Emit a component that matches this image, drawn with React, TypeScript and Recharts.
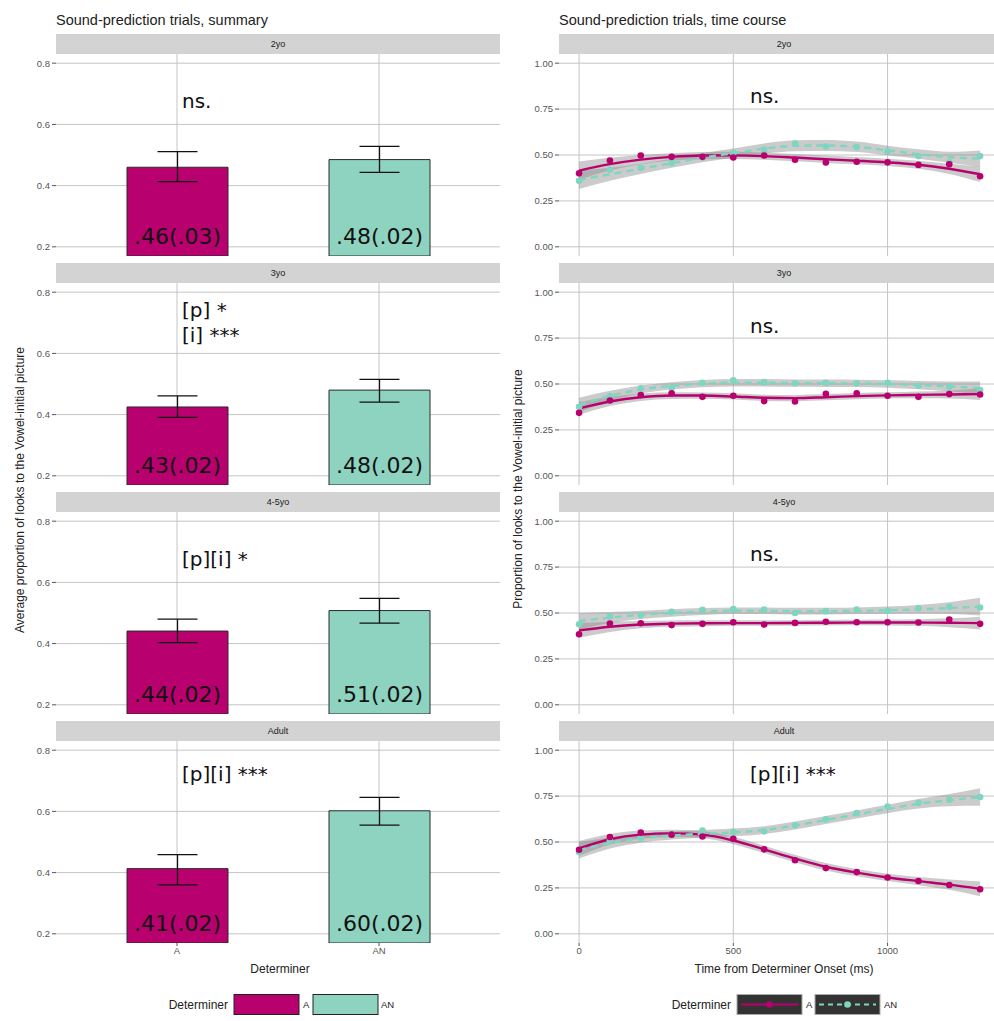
import React from "react";
import {
  BarChart,
  Bar,
  Cell,
  ErrorBar,
  LabelList,
  ComposedChart,
  Line,
  Area,
  XAxis,
  YAxis,
  CartesianGrid,
} from "recharts";

// ---- data ----
const ageGroups = ["2yo", "3yo", "4-5yo", "Adult"];
const determiners = ["A", "AN"];

// summary: mean and error-bar ends per age group
const meanA = [0.46, 0.425, 0.441, 0.413];
const meanAN = [0.485, 0.48, 0.508, 0.602];
const lowA = [0.413, 0.391, 0.403, 0.36];
const highA = [0.511, 0.461, 0.48, 0.459];
const lowAN = [0.443, 0.441, 0.467, 0.555];
const highAN = [0.528, 0.515, 0.548, 0.646];
const labelA = [".46(.03)", ".43(.02)", ".44(.02)", ".41(.02)"];
const labelAN = [".48(.02)", ".48(.02)", ".51(.02)", ".60(.02)"];
const summaryNotes = [["ns."], ["[p] *", "[i] ***"], ["[p][i] *"], ["[p][i] ***"]];

// time course
const timeMs = [0, 100, 200, 300, 400, 500, 600, 700, 800, 900, 1000, 1100, 1200, 1300];
const timeNotes = ["ns.", "ns.", "ns.", "[p][i] ***"];

const pointsA = [
  [0.4, 0.47, 0.497, 0.49, 0.49, 0.486, 0.497, 0.474, 0.459, 0.463, 0.46, 0.446, 0.45, 0.384],
  [0.343, 0.41, 0.44, 0.449, 0.43, 0.436, 0.407, 0.405, 0.447, 0.449, 0.436, 0.43, 0.445, 0.443],
  [0.384, 0.443, 0.444, 0.434, 0.441, 0.45, 0.437, 0.446, 0.452, 0.45, 0.45, 0.448, 0.464, 0.441],
  [0.458, 0.527, 0.551, 0.54, 0.53, 0.518, 0.46, 0.401, 0.358, 0.336, 0.307, 0.288, 0.266, 0.243],
];
const pointsAN = [
  [0.36, 0.42, 0.43, 0.457, 0.486, 0.51, 0.53, 0.563, 0.546, 0.543, 0.52, 0.494, 0.46, 0.494],
  [0.376, 0.434, 0.476, 0.48, 0.507, 0.52, 0.51, 0.504, 0.507, 0.504, 0.507, 0.49, 0.485, 0.467],
  [0.439, 0.481, 0.488, 0.506, 0.517, 0.521, 0.519, 0.5, 0.51, 0.519, 0.512, 0.526, 0.534, 0.53],
  [0.445, 0.507, 0.52, 0.54, 0.562, 0.555, 0.558, 0.591, 0.624, 0.657, 0.693, 0.713, 0.73, 0.745],
];
const fitA = [
  [0.415, 0.45, 0.475, 0.49, 0.497, 0.498, 0.494, 0.486, 0.477, 0.469, 0.46, 0.447, 0.425, 0.395],
  [0.367, 0.405, 0.428, 0.437, 0.437, 0.432, 0.425, 0.423, 0.428, 0.434, 0.438, 0.441, 0.443, 0.445],
  [0.405, 0.425, 0.437, 0.442, 0.444, 0.445, 0.445, 0.446, 0.447, 0.448, 0.448, 0.448, 0.447, 0.445],
  [0.465, 0.515, 0.54, 0.547, 0.54, 0.508, 0.46, 0.41, 0.365, 0.333, 0.307, 0.287, 0.268, 0.245],
];
const fitAN = [
  [0.365, 0.395, 0.425, 0.455, 0.485, 0.51, 0.535, 0.55, 0.552, 0.545, 0.525, 0.505, 0.488, 0.48],
  [0.385, 0.435, 0.47, 0.49, 0.502, 0.507, 0.507, 0.505, 0.504, 0.503, 0.5, 0.494, 0.487, 0.478],
  [0.455, 0.475, 0.49, 0.5, 0.508, 0.512, 0.512, 0.51, 0.51, 0.512, 0.515, 0.52, 0.527, 0.535],
  [0.455, 0.495, 0.52, 0.535, 0.545, 0.552, 0.565, 0.59, 0.62, 0.65, 0.68, 0.708, 0.728, 0.745],
];
// half-width of the grey confidence ribbons
const bandA = [
  [0.05, 0.035, 0.025, 0.02, 0.02, 0.02, 0.02, 0.02, 0.02, 0.02, 0.02, 0.022, 0.028, 0.042],
  [0.035, 0.025, 0.02, 0.018, 0.017, 0.017, 0.017, 0.017, 0.017, 0.017, 0.017, 0.018, 0.022, 0.032],
  [0.04, 0.028, 0.02, 0.017, 0.016, 0.015, 0.015, 0.015, 0.015, 0.015, 0.016, 0.018, 0.024, 0.035],
  [0.04, 0.028, 0.022, 0.02, 0.02, 0.02, 0.02, 0.02, 0.02, 0.02, 0.02, 0.022, 0.028, 0.04],
];
const bandAN = [
  [0.05, 0.035, 0.028, 0.025, 0.025, 0.025, 0.028, 0.03, 0.03, 0.028, 0.026, 0.026, 0.03, 0.045],
  [0.04, 0.028, 0.022, 0.02, 0.02, 0.02, 0.02, 0.02, 0.02, 0.02, 0.02, 0.022, 0.026, 0.036],
  [0.045, 0.03, 0.022, 0.02, 0.019, 0.018, 0.018, 0.018, 0.018, 0.018, 0.02, 0.024, 0.032, 0.048],
  [0.045, 0.03, 0.024, 0.022, 0.021, 0.021, 0.021, 0.022, 0.022, 0.022, 0.023, 0.026, 0.033, 0.048],
];

// ---- styling ----
const MAG = "#b8006e";
const TEAL_BAR = "#8dd3bf";
const TEAL = "#7fd6c0";
const GRID = "#c4c4c4";
const AXIS_TEXT = "#555";
const SANS = "'Liberation Sans', Arial, sans-serif";
const NOTE_FONT = "'DejaVu Sans', Verdana, sans-serif";

const STEP = 229;
const PLOT_TOP = 54;
const PLOT_H = 202;
const AXIS_H = 20;

function BarLabel(props: any) {
  const { x, y, width, height, value } = props;
  return (
    <text
      x={x + width / 2}
      y={y + height - 12}
      textAnchor="middle"
      fontFamily={NOTE_FONT}
      fontSize={22}
      fill="#111"
    >
      {value}
    </text>
  );
}

function SummaryPanel({ k }: { k: number }) {
  const last = k === ageGroups.length - 1;
  const rows = determiners.map((d, i) => {
    const mean = i === 0 ? meanA[k] : meanAN[k];
    const lo = i === 0 ? lowA[k] : lowAN[k];
    const hi = i === 0 ? highA[k] : highAN[k];
    return { det: d, mean, err: [mean - lo, hi - mean], label: i === 0 ? labelA[k] : labelAN[k] };
  });
  return (
    <div style={{ position: "absolute", left: 0, top: PLOT_TOP + STEP * k }}>
      <BarChart
        width={500}
        height={last ? PLOT_H + AXIS_H : PLOT_H}
        data={rows}
        margin={{ top: 0, right: 0, bottom: 0, left: 0 }}
      >
        <CartesianGrid stroke={GRID} strokeWidth={1} syncWithTicks />
        <XAxis
          dataKey="det"
          padding={{ left: 20, right: 20 }}
          hide={!last}
          height={AXIS_H}
          tickSize={3}
          tickMargin={1}
          axisLine={false}
          tickLine={{ stroke: AXIS_TEXT }}
          tick={{ fontSize: 9.5, fill: AXIS_TEXT, fontFamily: SANS }}
        />
        <YAxis
          width={56}
          domain={[0.17, 0.83]}
          allowDataOverflow
          ticks={[0.2, 0.4, 0.6, 0.8]}
          tickFormatter={(v: number) => v.toFixed(1)}
          tickSize={4}
          tickMargin={2}
          axisLine={false}
          tickLine={{ stroke: AXIS_TEXT }}
          tick={{ fontSize: 9.5, fill: AXIS_TEXT, fontFamily: SANS }}
        />
        <Bar dataKey="mean" barSize={101} stroke="#2b2b2b" strokeWidth={1} isAnimationActive={false}>
          {rows.map((r, i) => (
            <Cell key={r.det} fill={i === 0 ? MAG : TEAL_BAR} />
          ))}
          <ErrorBar dataKey="err" width={20} stroke="#111" strokeWidth={1.3} direction="y" />
          <LabelList dataKey="label" content={BarLabel} />
        </Bar>
      </BarChart>
    </div>
  );
}

function TimePanel({ k }: { k: number }) {
  const last = k === ageGroups.length - 1;
  const rows = timeMs.map((t, i) => ({
    t,
    a: pointsA[k][i],
    an: pointsAN[k][i],
    aFit: fitA[k][i],
    anFit: fitAN[k][i],
    aBand: [fitA[k][i] - bandA[k][i], fitA[k][i] + bandA[k][i]],
    anBand: [fitAN[k][i] - bandAN[k][i], fitAN[k][i] + bandAN[k][i]],
  }));
  return (
    <div style={{ position: "absolute", left: 500, top: PLOT_TOP + STEP * k }}>
      <ComposedChart
        width={494}
        height={last ? PLOT_H + AXIS_H : PLOT_H}
        data={rows}
        margin={{ top: 0, right: 0, bottom: 0, left: 0 }}
      >
        <CartesianGrid stroke={GRID} strokeWidth={1} syncWithTicks />
        <XAxis
          dataKey="t"
          type="number"
          domain={[-65, 1345]}
          allowDataOverflow
          ticks={[0, 500, 1000]}
          hide={!last}
          height={AXIS_H}
          tickSize={3}
          tickMargin={1}
          axisLine={false}
          tickLine={{ stroke: AXIS_TEXT }}
          tick={{ fontSize: 9.5, fill: AXIS_TEXT, fontFamily: SANS }}
        />
        <YAxis
          width={59}
          domain={[-0.05, 1.05]}
          allowDataOverflow
          ticks={[0, 0.25, 0.5, 0.75, 1]}
          tickFormatter={(v: number) => v.toFixed(2)}
          tickSize={4}
          tickMargin={2}
          axisLine={false}
          tickLine={{ stroke: AXIS_TEXT }}
          tick={{ fontSize: 9.5, fill: AXIS_TEXT, fontFamily: SANS }}
        />
        <Line dataKey="an" stroke="none" strokeWidth={0} dot={{ r: 3.3, fill: TEAL, stroke: TEAL }} activeDot={false} isAnimationActive={false} />
        <Line dataKey="a" stroke="none" strokeWidth={0} dot={{ r: 3.3, fill: MAG, stroke: MAG }} activeDot={false} isAnimationActive={false} />
        <Area dataKey="aBand" type="monotone" fill="#8c8c8c" fillOpacity={0.45} stroke="none" isAnimationActive={false} />
        <Area dataKey="anBand" type="monotone" fill="#8c8c8c" fillOpacity={0.45} stroke="none" isAnimationActive={false} />
        <Line dataKey="aFit" type="monotone" stroke={MAG} strokeWidth={2.4} dot={false} activeDot={false} isAnimationActive={false} />
        <Line dataKey="anFit" type="monotone" stroke={TEAL} strokeWidth={2.4} strokeDasharray="7 5" dot={false} activeDot={false} isAnimationActive={false} />
      </ComposedChart>
    </div>
  );
}

export default function App() {
  const summaryNoteBase = [108, 317, 566, 781];
  const timeNoteBase = [103, 333, 561, 781];
  return (
    <div style={{ position: "absolute", left: 0, top: 0, width: 994, height: 1021, background: "#fff", overflow: "hidden" }}>
      {ageGroups.map((g, k) => (
        <SummaryPanel key={"s" + g} k={k} />
      ))}
      {ageGroups.map((g, k) => (
        <TimePanel key={"t" + g} k={k} />
      ))}
      <svg width={994} height={1021} style={{ position: "absolute", left: 0, top: 0, pointerEvents: "none" }}>
        {/* titles */}
        <text x={56} y={25} fontFamily={SANS} fontSize={14.5} fill="#222">Sound-prediction trials, summary</text>
        <text x={559} y={25} fontFamily={SANS} fontSize={14.5} fill="#222">Sound-prediction trials, time course</text>

        {/* facet strips */}
        {ageGroups.map((g, k) => (
          <g key={"strip" + g}>
            <rect x={56} y={34 + STEP * k} width={444} height={20} fill="#d3d3d3" />
            <text x={278} y={47 + STEP * k} textAnchor="middle" fontFamily={SANS} fontSize={9} fill="#1a1a1a">{g}</text>
            <rect x={559} y={34 + STEP * k} width={435} height={20} fill="#d3d3d3" />
            <text x={784} y={47 + STEP * k} textAnchor="middle" fontFamily={SANS} fontSize={9} fill="#1a1a1a">{g}</text>
          </g>
        ))}

        {/* significance notes */}
        {summaryNotes.map((lines, k) =>
          lines.map((s, j) => (
            <text key={"sn" + k + j} x={182} y={summaryNoteBase[k] + j * 25} fontFamily={NOTE_FONT} fontSize={20} fill="#111">{s}</text>
          ))
        )}
        {timeNotes.map((s, k) => (
          <text key={"tn" + k} x={750} y={timeNoteBase[k]} fontFamily={NOTE_FONT} fontSize={20} fill="#111">{s}</text>
        ))}

        {/* axis titles */}
        <text x={280} y={973} textAnchor="middle" fontFamily={SANS} fontSize={12} fill="#222">Determiner</text>
        <text x={784} y={973} textAnchor="middle" fontFamily={SANS} fontSize={12} fill="#222">Time from Determiner Onset (ms)</text>
        <text transform="translate(24,490) rotate(-90)" textAnchor="middle" fontFamily={SANS} fontSize={12} fill="#222">
          Average proportion of looks to the Vowel-initial picture
        </text>
        <text transform="translate(522,489) rotate(-90)" textAnchor="middle" fontFamily={SANS} fontSize={12} fill="#222">
          Proportion of looks to the Vowel-initial picture
        </text>

        {/* legend: summary */}
        <text x={228} y={1009} textAnchor="end" fontFamily={SANS} fontSize={12} fill="#222">Determiner</text>
        <rect x={234} y={994.5} width={65} height={20} fill={MAG} stroke="#222" strokeWidth={1} />
        <text x={303} y={1008} fontFamily={SANS} fontSize={9.5} fill="#222">A</text>
        <rect x={313} y={994.5} width={65} height={20} fill={TEAL_BAR} stroke="#222" strokeWidth={1} />
        <text x={381} y={1008} fontFamily={SANS} fontSize={9.5} fill="#222">AN</text>

        {/* legend: time course */}
        <text x={731} y={1009} textAnchor="end" fontFamily={SANS} fontSize={12} fill="#222">Determiner</text>
        <rect x={737} y={994.5} width={65} height={20} fill="#333" stroke="#aaa" strokeWidth={1} />
        <line x1={741} x2={798} y1={1004.5} y2={1004.5} stroke={MAG} strokeWidth={2.2} />
        <circle cx={769.5} cy={1004.5} r={3.3} fill={MAG} />
        <text x={806} y={1008} fontFamily={SANS} fontSize={9.5} fill="#222">A</text>
        <rect x={815} y={994.5} width={65} height={20} fill="#333" stroke="#aaa" strokeWidth={1} />
        <line x1={819} x2={876} y1={1004.5} y2={1004.5} stroke={TEAL} strokeWidth={2.2} strokeDasharray="5 4" />
        <circle cx={847.5} cy={1004.5} r={3.3} fill={TEAL} />
        <text x={884} y={1008} fontFamily={SANS} fontSize={9.5} fill="#222">AN</text>
      </svg>
    </div>
  );
}
